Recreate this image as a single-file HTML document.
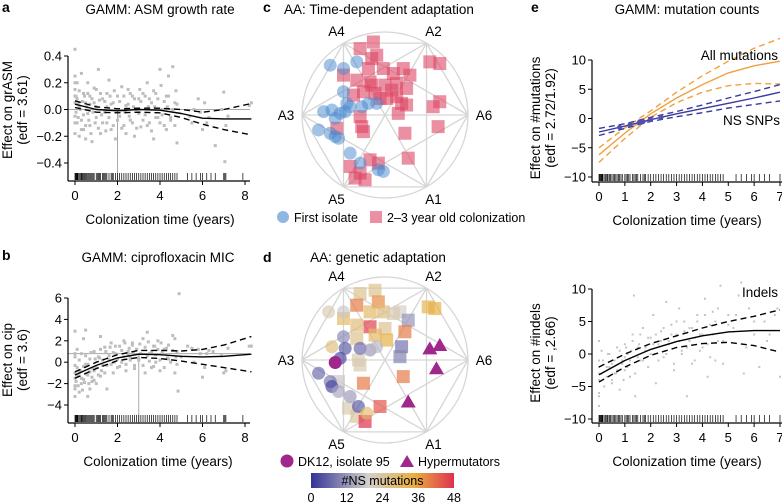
<!DOCTYPE html>
<html><head><meta charset="utf-8"><style>
body{margin:0;background:#fff;}
svg{display:block;font-family:"Liberation Sans",sans-serif;}
</style></head><body>
<svg id="fig" width="782" height="504" viewBox="0 0 782 504" xmlns="http://www.w3.org/2000/svg">
<g font-weight="bold" font-size="14">
<text x="2" y="12">a</text>
<text x="2" y="260">b</text>
<text x="263" y="12">c</text>
<text x="263" y="262">d</text>
<text x="531" y="12">e</text>
</g>
<g font-size="13.5" text-anchor="middle">
<text x="160" y="14">GAMM: ASM growth rate</text>
<text x="158" y="262">GAMM: ciprofloxacin MIC</text>
<text x="379" y="14">AA: Time-dependent adaptation</text>
<text x="378" y="262">AA: genetic adaptation</text>
<text x="687" y="14">GAMM: mutation counts</text>
</g>
</svg>
<script>
const NS='http://www.w3.org/2000/svg';
const svg=document.getElementById('fig');
function mk(tag,attrs,parent){const e=document.createElementNS(NS,tag);for(const k in attrs)e.setAttribute(k,attrs[k]);(parent||svg).appendChild(e);return e;}

// ---------- data ----------
const rugTimes=[0,0.03,0.05,0.08,0.1,0.13,0.15,0.2,0.25,0.3,0.33,0.35,0.4,0.45,0.5,0.55,0.6,0.65,0.7,0.75,0.8,0.85,0.9,1.0,1.05,1.1,1.15,1.2,1.3,1.35,1.4,1.45,1.5,1.6,1.7,1.75,1.8,1.9,2.0,2.1,2.2,2.3,2.4,2.5,2.6,2.7,2.8,2.9,3.0,3.1,3.2,3.3,3.4,3.5,3.6,3.7,3.8,3.9,4.0,4.1,4.2,4.3,4.4,4.5,4.6,4.7,4.8,5.3,5.5,5.7,5.9,6.0,6.2,6.4,6.6,7.0,7.05,7.1,7.9,8.2];

const aX=[0,0,0,0,0,0.05,0.1,0.1,0.15,0.2,0.2,0.3,0.3,0.4,0.4,0.5,0.5,0.6,0.6,0.7,0.7,0.8,0.9,1.0,1.0,1.1,1.2,1.3,1.4,1.5,1.5,1.6,1.7,1.8,1.9,2.0,2.1,2.2,2.3,2.4,2.5,2.6,2.7,2.8,2.9,3.0,3.1,3.2,3.3,3.4,3.5,3.6,3.7,3.8,3.9,4.0,4.1,4.2,4.3,4.4,4.5,4.6,4.7,4.8,5.4,5.6,5.8,6.0,6.2,6.6,7.0,7.05,7.2,8.2];
const aY=[0.45,0.25,0.15,-0.05,-0.18,0.1,0.2,-0.1,0.05,-0.2,0.02,0.27,-0.08,0.12,-0.15,0.05,-0.22,0.2,-0.03,0.1,-0.12,-0.24,0.05,0.15,-0.06,0.3,-0.18,0.08,-0.02,0.12,-0.1,0.22,-0.15,0.05,-0.22,0.1,-0.05,0.17,-0.12,0.03,0.15,-0.08,0.1,-0.2,0.0,0.08,-0.13,0.12,-0.04,0.2,-0.1,0.05,-0.22,0.12,-0.06,0.3,0.0,-0.12,0.1,0.25,-0.08,0.32,0.05,-0.25,-0.05,0.0,0.08,-0.15,-0.1,-0.27,0.13,-0.39,-0.05,0.03];
const aX2=[0,0,0,0,0.05,0.1,0.15,0.2,0.25,0.3,0.35,0.4,0.45,0.5,0.55,0.6,0.65,0.7,0.75,0.8,0.85,0.9,0.95,1.0,1.1,1.15,1.2,1.25,1.3,1.4,1.45,1.5,1.6,1.65,1.7,1.8,1.85,1.9,2.0,2.1,2.2,2.3,2.35,2.4,2.5,2.55,2.6,2.7,2.75,2.8,2.9,3.0,3.05,3.1,3.2,3.3,3.4,3.45,3.5,3.6,3.7,3.75,3.8,3.9,4.0,4.05,4.1,4.2,4.3,4.35,4.4,4.5,4.6,4.7,4.75,4.8,5.5,5.9,6.1,6.3,6.9,7.1,8.3];
const aY2=[0.05,-0.1,0.2,0.1,-0.02,0.08,-0.06,0.14,0.0,-0.15,0.06,-0.04,0.1,-0.12,0.02,0.12,-0.08,0.04,-0.18,0.08,-0.02,0.16,-0.1,0.02,-0.14,0.07,0.12,-0.04,-0.1,0.06,-0.16,0.02,-0.06,0.1,0.04,-0.12,0.14,0.0,-0.08,0.06,-0.14,0.1,-0.02,-0.18,0.04,-0.05,0.12,-0.1,0.02,0.08,-0.14,-0.03,0.15,0.06,-0.08,0.1,-0.12,0.02,0.08,-0.16,0.14,0.02,-0.06,0.08,-0.1,0.18,-0.04,0.06,-0.15,0.02,0.1,-0.06,0.0,-0.12,0.14,0.04,-0.1,-0.02,0.05,-0.06,0.0,-0.12,0.05];
const aFitX=[0,1,2,3,4,5,6,7,8.3];
const aFit=[0.04,0.0,-0.01,0.0,-0.005,-0.03,-0.065,-0.07,-0.07];
const aUp=[0.065,0.02,0.005,0.01,0.01,0.0,-0.02,0.0,0.045];
const aLo=[0.015,-0.02,-0.025,-0.02,-0.025,-0.06,-0.11,-0.15,-0.19];
const aYTicks=[-0.4,-0.2,0.0,0.2,0.4];
const aYTickLabels=['\u22120.4','\u22120.2','0.0','0.2','0.4'];

const bX=[0,0,0,0,0,0.1,0.1,0.2,0.2,0.3,0.3,0.4,0.4,0.5,0.5,0.6,0.6,0.7,0.7,0.8,0.9,0.9,1.0,1.1,1.2,1.2,1.3,1.4,1.5,1.6,1.7,1.8,1.9,2.0,2.1,2.2,2.3,2.4,2.5,2.6,2.7,2.8,2.9,3.0,3.2,3.3,3.4,3.5,3.6,3.7,3.8,3.9,4.0,4.2,4.4,4.6,4.7,4.8,4.85,4.9,5.0,5.3,5.6,5.8,6.0,6.2,6.5,7.0,7.2,8.2];
const bY=[2.9,-3.2,-1.5,0.5,-2.2,-0.5,1.2,-2.8,-1.0,-2.0,0.8,-1.6,2.2,-0.2,3.0,-3.2,-1.2,-2.5,0.3,-1.8,1.0,-0.8,-2.0,0.5,2.4,-1.3,-0.3,1.4,-2.5,0.2,1.8,-1.0,0.8,-0.5,1.5,0.0,2.0,-0.8,1.0,0.4,1.8,-0.3,1.2,0.2,2.2,-1.0,2.8,0.8,-0.5,1.5,0.0,2.0,-0.8,1.2,0.3,2.5,-1.0,1.0,-2.7,6.4,0.5,1.5,0.0,1.2,-1.4,0.8,1.0,-1.0,1.3,1.5];
const bY2=[-1.0,-2.5,0.8,-0.3,-1.8,-1.2,-2.2,0.2,-0.8,-1.5,-2.6,-0.4,-1.9,0.6,-1.1,-0.2,-2.0,-0.9,0.9,-1.4,-0.6,-1.7,0.3,-0.5,-1.2,0.4,1.2,-0.8,0.2,-1.0,1.0,-0.3,0.6,1.4,-0.2,0.9,0.0,1.5,0.3,-0.4,1.1,0.5,1.8,-0.2,0.7,1.3,0.2,1.6,0.9,-0.6,1.2,0.4,1.7,0.8,-0.3,1.4,0.6,1.9,0.1,1.0,-0.4,1.5,0.7,1.2,0.2,1.8,0.9,-0.5,1.3,0.4,1.6,0.0,1.1,2.2,0.5,-0.2,1.3,0.8,-0.5,1.1,0.6,-0.8,1.5];
const bFitX=[0,1,2,3,4,5,6,7,8.3];
const bFit=[-1.2,-0.3,0.4,0.75,0.7,0.55,0.5,0.55,0.75];
const bUp=[-0.9,0.0,0.7,1.1,1.1,1.05,1.2,1.6,2.4];
const bLo=[-1.5,-0.6,0.15,0.45,0.35,0.1,-0.2,-0.5,-0.9];
const bYTicks=[-4,-2,0,2,4,6];
const bYTickLabels=['\u22124','\u22122','0','2','4','6'];

const xTicks8=[0,2,4,6,8];
const xTicks7=[0,1,2,3,4,5,6,7];

const eFitX=[0,1,2,3,4,5,6,7];
const allFit=[-6.2,-2.5,0.8,3.5,5.8,7.8,9,9.8];
const allUp=[-5,-1.6,1.3,4.5,7.3,9.8,12,13.7];
const allLo=[-7.5,-3.4,0.2,2.7,4.5,5.6,6,5.9];
const nsFit=[-2.3,-1.3,-0.2,0.8,1.7,2.6,3.5,4.5];
const nsUp=[-1.7,-0.9,0.2,1.2,2.3,3.5,4.6,5.8];
const nsLo=[-2.9,-1.7,-0.5,0.3,1.0,1.8,2.4,3.0];
const nsDotX=[0.8,1.2,1.55,1.7,2.0,2.4];
const eYTicks=[-10,-5,0,5,10];
const eYTickLabels=['\u221210','\u22125','0','5','10'];

const indX=[0,0,0,0,0,0.1,0.2,0.3,0.4,0.5,0.5,0.6,0.7,0.8,0.9,1.0,1.0,1.1,1.2,1.3,1.35,1.4,1.5,1.6,1.7,1.8,1.9,2.0,2.1,2.2,2.3,2.4,2.5,2.6,2.7,2.8,2.9,3.0,3.1,3.2,3.3,3.4,3.5,3.6,3.7,3.8,3.9,4.0,4.1,4.2,4.3,4.4,4.5,4.6,4.7,4.8,5.0,5.2,5.4,5.5,5.6,5.8,6.0,6.2,6.4,6.6,6.8,7.0];
const indY=[2,-6,-8,-3,-1,0.5,-5,-2,0,-4.5,-1.5,-3,1,-5.5,-1,-2.5,1.5,0,-3.5,3,9,-6.5,1,-1,4,0.5,-2,2.5,6,-4.5,1.5,3.5,-0.5,8,2,4.5,-1.5,3,7,0.5,5,-6.5,2,4,-1,6,3,1,8.5,-3.5,4.5,6.5,-1,2,10.5,-1.5,6,4,9,11,-3,7,3,-2,5,3,6,-3.5];
const indX2=[0,0,0,0.1,0.15,0.2,0.3,0.35,0.4,0.5,0.6,0.65,0.7,0.8,0.9,0.95,1.0,1.05,1.1,1.2,1.25,1.3,1.4,1.5,1.55,1.6,1.7,1.8,1.9,2.0,2.1,2.2,2.3,2.4,2.5,2.6,2.7,2.8,2.9,3.0,3.1,3.2,3.3,3.4,3.5,3.6,3.7,3.8,3.9,4.0,4.1,4.2,4.3,4.4,4.5,4.6,4.8,5.0,5.3,5.7,6.0,6.5,6.9];
const indY2=[-4,-2,-6.5,-3,-1,-5,-3.5,0,-2,-4,-1,-3,-2.5,0.5,-1.5,-4,-0.5,1,-2,-1,0.5,2,-3,-0.5,1.5,3,-1,1,2.5,0,1.5,3,-1,2,4,0,1.5,3,-2.5,5,2,0,3.5,1,4,-1.5,2.5,5,0.5,3,6,1.5,-0.5,3,5,7,2,4.5,6,1,5,2,7];
const indFit=[-3.2,-1,0.7,1.9,2.8,3.4,3.6,3.6];
const indUp=[-2,0,1.6,2.8,4,5,5.8,6.8];
const indLo=[-4.3,-2,-0.2,1,1.6,1.8,1.3,0.3];

// AA plots: unit-disc coordinates
const cBlueU=[-0.66,-0.50,-0.34,-0.50,-0.46,-0.74,-0.64,-0.54,-0.60,-0.48,-0.42,-0.80,-0.66,-0.60,-0.56,-0.42,-0.30,-0.08,-0.02,-0.28,-0.20,-0.10];
const cBlueV=[-0.60,-0.56,-0.64,-0.28,-0.14,-0.04,-0.06,-0.02,0.04,-0.04,-0.10,0.18,0.22,0.26,0.28,0.46,0.58,0.66,0.68,-0.10,-0.14,-0.14];
const cRedU=[-0.14,-0.30,-0.10,-0.16,-0.20,-0.02,0.10,0.22,0.30,0.54,0.66,-0.50,-0.34,-0.18,0,0.14,0.26,-0.38,-0.26,-0.12,0.02,0.14,0.20,0.16,0.26,0.58,0.66,0.64,-0.30,-0.28,-0.26,-0.58,0.24,0.28,-0.18,-0.08,-0.42,-0.30,-0.24,-0.36,-0.16,-0.06,0.08];
const cRedV=[-0.88,-0.80,-0.72,-0.68,-0.56,-0.56,-0.50,-0.56,-0.48,-0.64,-0.62,-0.48,-0.42,-0.40,-0.36,-0.38,-0.32,-0.24,-0.28,-0.26,-0.20,-0.22,-0.14,-0.02,-0.12,-0.10,-0.16,0.14,0.02,0.14,0.20,0.16,0.22,0.52,0.54,0.58,0.62,0.70,0.78,0.76,-0.36,-0.20,-0.30];

const dCircU=[-0.68,-0.50,-0.50,-0.64,-0.48,-0.54,-0.30,-0.18,-0.10,-0.80,-0.66,-0.64,-0.56,-0.42,-0.32,-0.22];
const dCircV=[-0.58,-0.58,-0.28,-0.16,-0.14,-0.02,-0.14,-0.12,-0.16,0.16,0.26,0.32,0.38,0.44,0.56,0.64];
const dCircNS=[22,18,10,28,4,2,6,12,16,6,8,2,14,12,4,30];
const dSqU=[-0.30,-0.12,-0.08,-0.34,-0.18,-0.02,0.18,0.52,0.60,-0.50,-0.34,-0.18,0,0.28,0.24,-0.34,-0.12,0.02,0.20,0.18,-0.32,-0.30,0.22,-0.26,-0.56,-0.06,-0.44,-0.34,-0.24,0.10];
const dSqV=[-0.80,-0.84,-0.70,-0.66,-0.58,-0.58,-0.58,-0.64,-0.62,-0.50,-0.42,-0.40,-0.38,-0.48,-0.34,-0.26,-0.30,-0.24,-0.16,-0.04,0,0.06,0.20,0.28,0.26,0.56,0.58,0.68,0.74,-0.56];
const dSqNS=[26,26,38,40,30,28,20,32,34,30,28,46,26,12,40,26,30,34,8,10,22,22,40,40,18,44,22,24,48,22];
const hyperU=[0.28,0.54,0.66,0.62];
const hyperV=[0.50,-0.14,-0.18,0.10];
const dk12U=[-0.60];
const dk12V=[0.03];
const nsTicks=[0,12,24,36,48];
const vertexLabels=['A1','A2','A3','A4','A5','A6'];

// ---------- GAMM panels ----------
function panel(cfg){
  const g=mk('g',{});  
  const sx=v=>cfg.x0+(v-cfg.xmin)/(cfg.xmax-cfg.xmin)*(cfg.x1-cfg.x0);
  const sy=v=>cfg.y0+(v-cfg.ymin)/(cfg.ymax-cfg.ymin)*(cfg.y1-cfg.y0);
  if(cfg.ref){
    const r=cfg.ref;
    const h=mk('line',{x1:cfg.ax,x2:cfg.axEnd,y1:sy(r.y),y2:sy(r.y),stroke:'#aaa','stroke-width':1},g);
    
    const v=mk('line',{x1:sx(r.x),x2:sx(r.x),y1:sy(r.y),y2:cfg.axY,stroke:'#aaa','stroke-width':1},g);
    
  }
  if(cfg.px){
    const pg=mk('g',{fill:cfg.pc||'#bdbdbd'},g);
    const n=Math.min(cfg.px.length,cfg.py.length);
    for(let i=0;i<n;i++){const xv=cfg.px[i];if(xv>cfg.xmax+0.4)continue;const s=cfg.ps||3;const p=mk('rect',{x:sx(xv)-s/2,y:sy(cfg.py[i])-s/2,width:s,height:s},pg);
      }
  }
  const rg=mk('g',{stroke:'#000','stroke-width':0.7},g);
  rugTimes.forEach(t=>{if(t>cfg.xmax)return;const l=mk('line',{x1:sx(t),x2:sx(t),y1:cfg.axY-8,y2:cfg.axY-1},rg);
    });
  cfg.curves.forEach(c=>{
    const d=c.ys.map((v,i)=>(i?'L':'M')+sx(c.xs[i]).toFixed(1)+','+sy(v).toFixed(1)).join('');
    const p=mk('path',{d:d,fill:'none',stroke:c.color,'stroke-width':c.w||1.4,'stroke-dasharray':c.dash||'none','stroke-linejoin':'round'},g);
    
  });
  const ya=mk('line',{x1:cfg.ax,x2:cfg.ax,y1:sy(cfg.yt[cfg.yt.length-1]),y2:cfg.axY,stroke:'#000','stroke-width':1.2},g);
  
  const xa=mk('line',{x1:cfg.ax,x2:cfg.axEnd,y1:cfg.axY,y2:cfg.axY,stroke:'#000','stroke-width':1.2},g);
  
  cfg.yt.forEach((v,i)=>{
    const y=sy(v);
    const t=mk('line',{x1:cfg.ax-4,x2:cfg.ax,y1:y,y2:y,stroke:'#000'},g);
    
    const tx=mk('text',{x:cfg.ax-6,y:y+4.5,'text-anchor':'end','font-size':13},g);tx.textContent=cfg.ytl[i];
    
  });
  cfg.xt.forEach(v=>{
    const x=sx(v);
    const t=mk('line',{x1:x,x2:x,y1:cfg.axY,y2:cfg.axY+4,stroke:'#000'},g);
    
    const tx=mk('text',{x:x,y:cfg.axY+19,'text-anchor':'middle','font-size':13},g);tx.textContent=String(v);
    
  });
  const xt=mk('text',{x:cfg.xtx,y:cfg.axY+43,'text-anchor':'middle','font-size':13.5},g);xt.textContent='Colonization time (years)';
  
  cfg.ytitle.forEach((s,i)=>{
    const x=cfg.ytx+i*15;
    const t=mk('text',{x:x,y:cfg.yty,'text-anchor':'middle','font-size':13.5,transform:`rotate(-90 ${x} ${cfg.yty})`},g);t.textContent=s;
    
  });
  return {sx,sy,g};
}

panel({name:'panel-a-asm-growth',x0:75,x1:245,xmin:0,xmax:8,y0:56,y1:163,ymin:0.4,ymax:-0.4,ax:68,axEnd:250,axY:181,
  px:aX.concat(aX2),py:aY.concat(aY2),ref:{x:2,y:0},yt:aYTicks,ytl:aYTickLabels,xt:xTicks8,xtx:160,ytx:12,yty:110,ytitle:['Effect on grASM','(edf = 3.61)'],
  curves:[{name:'fit-line',xs:aFitX,ys:aFit,color:'#000'},{name:'ci-upper',xs:aFitX,ys:aUp,color:'#000',dash:'6,4'},{name:'ci-lower',xs:aFitX,ys:aLo,color:'#000',dash:'6,4'}]});

panel({name:'panel-b-cipro',x0:75,x1:245,xmin:0,xmax:8,y0:298,y1:405,ymin:6,ymax:-4,ax:68,axEnd:250,axY:423,
  px:bX.concat(aX2),py:bY.concat(bY2),ref:{x:3,y:0.8},yt:bYTicks,ytl:bYTickLabels,xt:xTicks8,xtx:158,ytx:12,yty:360,ytitle:['Effect on cip','(edf = 3.6)'],
  curves:[{name:'fit-line',xs:bFitX,ys:bFit,color:'#000'},{name:'ci-upper',xs:bFitX,ys:bUp,color:'#000',dash:'6,4'},{name:'ci-lower',xs:bFitX,ys:bLo,color:'#000',dash:'6,4'}]});

const eTop=panel({name:'panel-e-mutations',x0:599,x1:780,xmin:0,xmax:7,y0:60,y1:177,ymin:10,ymax:-10,ax:592,axEnd:782,axY:182,
  yt:eYTicks,ytl:eYTickLabels,xt:xTicks7,xtx:687,ytx:540,yty:118,ytitle:['Effect on #mutations','(edf = 2.72/1.92)'],
  curves:[{name:'all-mutations-fit',xs:eFitX,ys:allFit,color:'#f0a040'},{name:'all-mutations-upper',xs:eFitX,ys:allUp,color:'#f0a040',dash:'6,4'},{name:'all-mutations-lower',xs:eFitX,ys:allLo,color:'#f0a040',dash:'6,4'},
  {name:'ns-snps-fit',xs:eFitX,ys:nsFit,color:'#3a3aa0'},{name:'ns-snps-upper',xs:eFitX,ys:nsUp,color:'#3a3aa0',dash:'6,4'},{name:'ns-snps-lower',xs:eFitX,ys:nsLo,color:'#3a3aa0',dash:'6,4'}]});
nsDotX.forEach(xv=>{
  let yv=0;for(let i=0;i<eFitX.length-1;i++){if(xv>=eFitX[i]&&xv<=eFitX[i+1]){const f=(xv-eFitX[i])/(eFitX[i+1]-eFitX[i]);yv=nsFit[i]+f*(nsFit[i+1]-nsFit[i]);}}
  const c=mk('circle',{cx:eTop.sx(xv),cy:eTop.sy(yv),r:2.5,fill:'#5050b0'},eTop.g);
  
});
let lab=mk('text',{x:778,y:60,'text-anchor':'end','font-size':13.5},eTop.g);lab.textContent='All mutations';

lab=mk('text',{x:780,y:125,'text-anchor':'end','font-size':13.5},eTop.g);lab.textContent='NS SNPs';


const eBot=panel({name:'panel-e-indels',x0:599,x1:780,xmin:0,xmax:7,y0:289,y1:419,ymin:10,ymax:-10,ax:592,axEnd:782,axY:423,
  px:indX.concat(indX2),py:indY.concat(indY2),ps:2,pc:'#c4c4c4',yt:eYTicks,ytl:eYTickLabels,xt:xTicks7,xtx:687,ytx:540,yty:353,ytitle:['Effect on #indels','(edf = ,2.66)'],
  curves:[{name:'indels-fit',xs:eFitX,ys:indFit,color:'#000'},{name:'indels-upper',xs:eFitX,ys:indUp,color:'#000',dash:'6,4'},{name:'indels-lower',xs:eFitX,ys:indLo,color:'#000',dash:'6,4'}]});
lab=mk('text',{x:778,y:297,'text-anchor':'end','font-size':13.5},eBot.g);lab.textContent='Indels';


// ---------- AA hexagon panels ----------
function nsColor(v){
  const stops=[[0,[50,50,150]],[0.4,[212,208,204]],[0.72,[232,176,64]],[1,[224,48,80]]];
  const t=Math.max(0,Math.min(1,v/48));
  for(let i=0;i<stops.length-1;i++){const a=stops[i],b=stops[i+1];if(t<=b[0]){const f=(t-a[0])/(b[0]-a[0]);
    return 'rgb('+a[1].map((c,k)=>Math.round(c+f*(b[1][k]-c))).join(',')+')';}}
  return 'rgb(224,48,80)';
}
function hexFrame(name,cx,cy,r){
  const g=mk('g',{});
  const fr=mk('g',{stroke:'#d6d6d6','stroke-width':1.3,fill:'none'},g);
  
  const circ=mk('circle',{cx:cx,cy:cy,r:r},fr);
  const ang={A1:-60,A2:60,A3:180,A4:120,A5:240,A6:0};
  const pts=vertexLabels.map(l=>[cx+r*Math.cos(ang[l]*Math.PI/180),cy-r*Math.sin(ang[l]*Math.PI/180)]);
  for(let i=0;i<6;i++)for(let j=i+1;j<6;j++){
    const l=mk('line',{x1:pts[i][0],y1:pts[i][1],x2:pts[j][0],y2:pts[j][1]},fr);
    
  }
  vertexLabels.forEach(l=>{
    const a=ang[l]*Math.PI/180;const rr=r+14;
    let x=cx+rr*Math.cos(a),y=cy-rr*Math.sin(a);
    if(l==='A3')x-=2; if(l==='A6')x+=2;
    const t=mk('text',{x:x,y:y+5,'text-anchor':'middle','font-size':13.5},g);t.textContent=l;
    
  });
  return g;
}
(function(){
  const cx=385,cy=115,r=83;
  const g=hexFrame('panel-c-time-adaptation',cx,cy,r);
  cRedU.forEach((u,i)=>{const x=cx+u*r,y=cy+cRedV[i]*r;
    const s=mk('rect',{x:x-6.5,y:y-6.5,width:13,height:13,fill:'rgba(222,70,100,0.6)'},g);
    });
  cBlueU.forEach((u,i)=>{const x=cx+u*r,y=cy+cBlueV[i]*r;
    const c=mk('circle',{cx:x,cy:y,r:6.5,fill:'rgba(70,135,205,0.5)'},g);
    });
  const lg=mk('g',{},g);
  let e=mk('circle',{cx:283,cy:217,r:6,fill:'rgba(70,135,205,0.6)'},lg);
  let t=mk('text',{x:294,y:222,'font-size':12.5},lg);t.textContent='First isolate';
  e=mk('rect',{x:370,y:211,width:12,height:12,fill:'rgba(222,70,100,0.6)'},lg);
  t=mk('text',{x:387,y:222,'font-size':12.5},lg);t.textContent='2\u20133 year old colonization';
})();
(function(){
  const cx=385,cy=360,r=83;
  const g=hexFrame('panel-d-genetic-adaptation',cx,cy,r);
  dSqU.forEach((u,i)=>{const x=cx+u*r,y=cy+dSqV[i]*r;
    const s=mk('rect',{x:x-6.5,y:y-6.5,width:13,height:13,fill:nsColor(dSqNS[i]),'fill-opacity':0.7},g);
    });
  dCircU.forEach((u,i)=>{const x=cx+u*r,y=cy+dCircV[i]*r;
    const c=mk('circle',{cx:x,cy:y,r:6.5,fill:nsColor(dCircNS[i]),'fill-opacity':0.65},g);
    });
  hyperU.forEach((u,i)=>{const x=cx+u*r,y=cy+hyperV[i]*r;
    const p=mk('polygon',{points:`${x},${y-7} ${x-7.5},${y+6} ${x+7.5},${y+6}`,fill:'#a0288c'},g);
    });
  dk12U.forEach((u,i)=>{const c=mk('circle',{cx:cx+u*r,cy:cy+dk12V[i]*r,r:6.5,fill:'#a0288c'},g);
    });
  const lg=mk('g',{},g);
  let e=mk('circle',{cx:287,cy:461,r:6.5,fill:'#a0288c'},lg);
  let t=mk('text',{x:298,y:466,'font-size':12.5},lg);t.textContent='DK12, isolate 95';
  e=mk('polygon',{points:'407,455 400,467 414,467',fill:'#a0288c'},lg);
  t=mk('text',{x:418,y:466,'font-size':12.5},lg);t.textContent='Hypermutators';
  const defs=mk('defs',{},g);
  const lgr=mk('linearGradient',{id:'nsgrad',x1:0,x2:1,y1:0,y2:0},defs);
  [0,0.2,0.4,0.55,0.72,0.86,1].forEach(o=>mk('stop',{offset:o,'stop-color':nsColor(o*48)},lgr));
  const x0=311,x1=454;
  const bar=mk('rect',{x:x0,y:473,width:x1-x0,height:15,fill:'url(#nsgrad)'},g);
  
  t=mk('text',{x:(x0+x1)/2,y:485,'text-anchor':'middle','font-size':12.5},g);t.textContent='#NS mutations';
  
  nsTicks.forEach(v=>{const tt=mk('text',{x:x0+v/48*(x1-x0),y:502,'text-anchor':'middle','font-size':12.5},g);tt.textContent=String(v);
    });
})();
</script>
</body></html>
